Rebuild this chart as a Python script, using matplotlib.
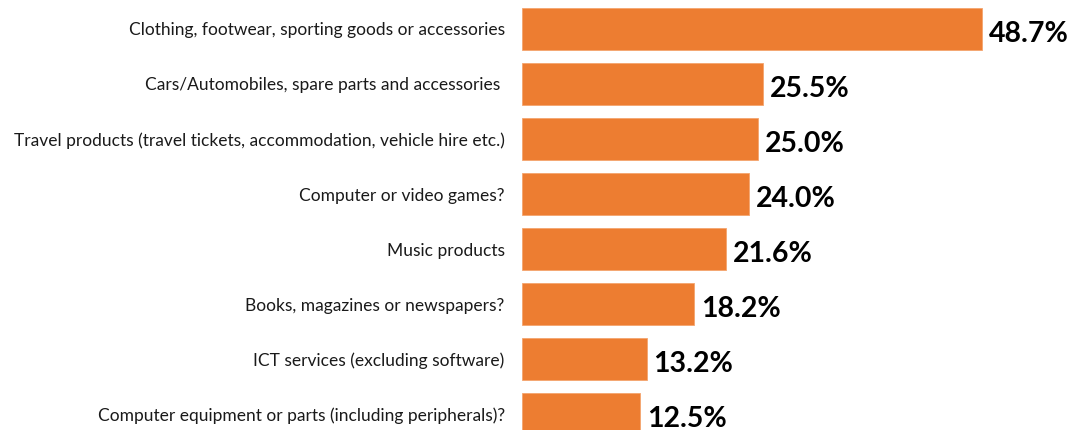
import matplotlib
matplotlib.use("Agg")
import matplotlib.pyplot as plt

categories = [
    "Clothing, footwear, sporting goods or accessories",
    "Cars/Automobiles, spare parts and accessories ",
    "Travel products (travel tickets, accommodation, vehicle hire etc.)",
    "Computer or video games?",
    "Music products",
    "Books, magazines or newspapers?",
    "ICT services (excluding software)",
    "Computer equipment or parts (including peripherals)?",
]
values = [48.7, 25.5, 25.0, 24.0, 21.6, 18.2, 13.2, 12.5]

W, H = 1076, 430
fig = plt.figure(figsize=(W / 100, H / 100), dpi=100)
left = 522 / W
ax = fig.add_axes([left, 0, 1 - left, 1])

bar_color = "#ED7D31"
positions = list(range(len(categories)))
ax.barh(positions, values, height=0.764, color=bar_color,
        edgecolor="#F4A46E", linewidth=0.6)

ax.set_xlim(0, 58.6)
ax.set_ylim(7.29, -0.527)

for y, v in zip(positions, values):
    ax.text(v + 0.7, y + 0.09, f"{v:.1f}%", va="center", ha="left",
            fontsize=20.5, fontweight="bold", family="Lato", color="black")

ax.set_yticks(positions)
ax.set_yticklabels(categories, family="Lato", fontsize=12.5, color="#1a1a1a")
ax.tick_params(axis="y", length=0, pad=12.5)
ax.set_xticks([])
for s in ax.spines.values():
    s.set_visible(False)

fig.savefig("out.png", dpi=100)
